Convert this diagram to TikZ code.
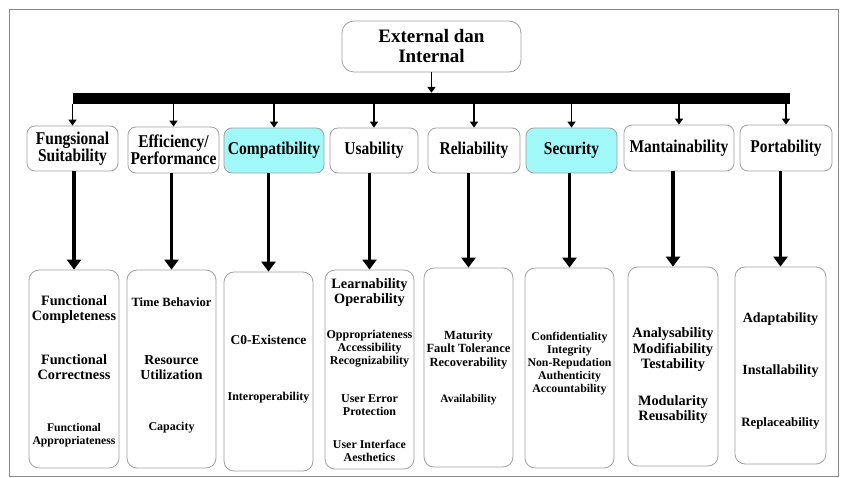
\documentclass[tikz,border=0pt]{standalone}
\usepackage{fontspec}
\setmainfont{Liberation Serif}
\newfontfamily\catfont{Liberation Serif}[FakeStretch=0.86]
\usepackage{xcolor}
\usepackage{tikz}
\usetikzlibrary{arrows.meta}
\definecolor{boxgray}{HTML}{A0A0A0}
\definecolor{framegray}{HTML}{8A8A8A}
\definecolor{cyanx}{HTML}{A0F8F8}
\newcommand{\sz}[2]{\fontsize{#1}{#2}\selectfont}
\tikzset{
  ar/.style={-{Triangle[length=6pt,width=8pt]},line width=1.5pt},
  bigar/.style={-{Triangle[length=10pt,width=14pt]},line width=3.3pt},
  cat/.style={draw=boxgray,line width=0.8pt,rounded corners=8pt,fill=white,align=center,inner sep=0pt,font=\catfont\bfseries\sz{18}{17}},
  sub/.style={draw=boxgray,line width=0.8pt,rounded corners=10pt,inner sep=0pt},
  itm/.style={align=center,inner sep=0pt,font=\bfseries}
}

\begin{document}
\begin{tikzpicture}[x=1pt,y=-1pt]
\useasboundingbox (0,0) rectangle (843,478);
\draw[framegray,line width=0.8pt] (9,9) rectangle (838,476);

% top and bar
\node[cat,rounded corners=12pt,minimum width=179pt,minimum height=51pt,font=\bfseries\sz{19}{20}] (top) at (431.5,46.5) {External dan\\Internal};
\node[fill=black,inner sep=0pt,minimum width=717pt,minimum height=11pt] (bar) at (431.5,98.5) {};

% characteristics
\node[cat,minimum width=91pt,minimum height=45pt] (fs) at (72.5,148.5) {Fungsional\\Suitability};
\node[cat,minimum width=91pt,minimum height=46pt] (ep) at (173.5,150) {Efficiency/\\Performance};
\node[cat,fill=cyanx,minimum width=100pt,minimum height=45pt] (cp) at (274,150.5) {Compatibility};
\node[cat,minimum width=88pt,minimum height=45pt] (us) at (374,150.5) {Usability};
\node[cat,minimum width=92pt,minimum height=45pt] (rl) at (474,150.5) {Reliability};
\node[cat,fill=cyanx,minimum width=91pt,minimum height=45pt] (sc) at (571.5,150.5) {Security};
\node[cat,minimum width=110pt,minimum height=46pt] (mt) at (679,148) {Mantainability};
\node[cat,minimum width=92pt,minimum height=46pt] (pt) at (786,148) {Portability};

% sub-characteristic boxes
\node[sub,minimum width=90pt,minimum height=198pt] (fsd) at (74,369) {};
\node[sub,minimum width=89pt,minimum height=198pt] (epd) at (171.5,369) {};
\node[sub,minimum width=89pt,minimum height=199pt] (cpd) at (268.5,371.5) {};
\node[sub,minimum width=89pt,minimum height=199pt] (usd) at (369.5,369.5) {};
\node[sub,minimum width=89pt,minimum height=199pt] (rld) at (468.5,367.5) {};
\node[sub,minimum width=89pt,minimum height=200pt] (scd) at (569.5,368) {};
\node[sub,minimum width=90pt,minimum height=199pt] (mtd) at (673,366.5) {};
\node[sub,minimum width=91pt,minimum height=197pt] (ptd) at (780.5,365.5) {};

% texts
\node[itm,font=\bfseries\sz{14.3}{15}] (fsd1) at (74,310) {Functional\\Completeness};
\node[itm,font=\bfseries\sz{14.3}{15}] (fsd2) at (74,367) {Functional\\Correctness};
\node[itm,font=\bfseries\sz{11.7}{13}] (fsd3) at (74,435) {Functional\\Appropriateness};
\node[itm,font=\bfseries\sz{12.6}{14}] (epd1) at (171.5,302) {Time Behavior};
\node[itm,font=\bfseries\sz{13.8}{15}] (epd2) at (171.5,368) {Resource\\Utilization};
\node[itm,font=\bfseries\sz{12}{13}] (epd3) at (171.5,428) {Capacity};
\node[itm,font=\bfseries\sz{13.5}{14}] (cpd1) at (268.5,340) {C0-Existence};
\node[itm,font=\bfseries\sz{12}{13}] (cpd2) at (268.5,398) {Interoperability};
\node[itm,font=\bfseries\sz{14.3}{15}] (usd1) at (369.5,293) {Learnability\\Operability};
\node[itm,font=\bfseries\sz{12}{13}] (usd2) at (369.5,349) {Oppropriateness\\Accessibility\\Recognizability};
\node[itm,font=\bfseries\sz{12}{13.5}] (usd3) at (369.5,405) {User Error\\Protection};
\node[itm,font=\bfseries\sz{11.9}{13}] (usd4) at (369.5,451) {User Interface\\Aesthetics};
\node[itm,font=\bfseries\sz{12.5}{13.5}] (rld1) at (468.5,350) {Maturity\\Fault Tolerance\\Recoverability};
\node[itm,font=\bfseries\sz{11.4}{13}] (rld2) at (468.5,400) {Availability};
\node[itm,font=\bfseries\sz{11.8}{13}] (scd1) at (569.5,364) {Confidentiality\\Integrity\\Non-Repudation\\Authenticity\\Accountability};
\node[itm,font=\bfseries\sz{14.3}{15.5}] (mtd1) at (673,350) {Analysability\\Modifiability\\Testability};
\node[itm,font=\bfseries\sz{14.3}{15}] (mtd2) at (673,410) {Modularity\\Reusability};
\node[itm,font=\bfseries\sz{14}{15}] (ptd1) at (780.5,319) {Adaptability};
\node[itm,font=\bfseries\sz{14}{15}] (ptd2) at (780.5,371) {Installability};
\node[itm,font=\bfseries\sz{12.8}{14}] (ptd3) at (780.5,423) {Replaceability};

% arrows
\draw[ar] (top.south) -- (top.south |- bar.north);
\foreach \n in {fs,ep,cp,us,rl,sc,mt,pt}
  \draw[ar] (bar.south -| \n.north) -- (\n.north);
\foreach \a/\b in {fs/fsd,ep/epd,cp/cpd,us/usd,rl/rld,sc/scd,mt/mtd,pt/ptd}
  \draw[bigar] (\a.south -| \b.north) -- (\b.north);
\end{tikzpicture}
\end{document}
